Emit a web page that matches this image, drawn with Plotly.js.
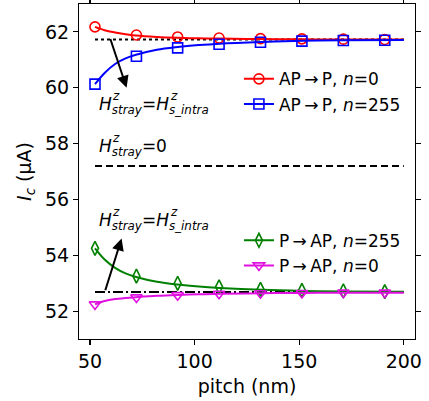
<!DOCTYPE html>
<html><head><meta charset="utf-8">
<script src="https://cdn.plot.ly/plotly-3.0.1.min.js"></script>
<style>html,body{margin:0;padding:0;background:#fff}</style>
</head><body><div id="chart" style="width:429px;height:401px"></div>
<script>
// ---- data ----
const pitch = [52.4, 72.2, 91.9, 111.7, 131.5, 151.3, 171.1, 190.9];
const apP_n0   = [62.18, 61.89, 61.82, 61.78, 61.76, 61.75, 61.74, 61.73];
const apP_n255 = [60.13, 61.13, 61.43, 61.56, 61.63, 61.67, 61.69, 61.70];
const pAP_n255 = [54.25, 53.25, 52.99, 52.87, 52.78, 52.74, 52.72, 52.70];
const pAP_n0   = [52.24, 52.49, 52.57, 52.62, 52.64, 52.65, 52.66, 52.66];

const fitX        = [52.4, 57, 62, 67, 72, 82, 92, 102, 112, 132, 152, 171, 200];
const fit_apP_n0   = [62.18, 62.06, 61.98, 61.92, 61.87, 61.82, 61.79, 61.77, 61.76, 61.745, 61.735, 61.73, 61.73];
const fit_apP_n255 = [60.13, 60.53, 60.85, 61.05, 61.18, 61.36, 61.46, 61.53, 61.58, 61.64, 61.68, 61.70, 61.71];
const fit_pAP_n255 = [54.25, 53.85, 53.55, 53.35, 53.22, 53.05, 52.95, 52.88, 52.83, 52.76, 52.72, 52.70, 52.69];
const fit_pAP_n0   = [52.24, 52.36, 52.43, 52.47, 52.50, 52.55, 52.58, 52.60, 52.62, 52.64, 52.65, 52.66, 52.66];

const refX = [52.4, 200];
const level_intraAP = 61.73;   // dotted
const level_zero    = 57.2;    // dashed
const level_intraP  = 52.68;   // dash-dot

const names = ['AP\u2009\u2192\u2009P, <i>n</i>=0', 'AP\u2009\u2192\u2009P, <i>n</i>=255',
               'P\u2009\u2192\u2009AP, <i>n</i>=255', 'P\u2009\u2192\u2009AP, <i>n</i>=0'];

// arrows: [tailX, tailY, headX, headY]
const arrow1 = [59.5, 61.8, 67.5, 60.0];
const arrow2 = [57.1, 52.69, 65.1, 54.6];

// ---- styling ----
const FONT = 'DejaVu Sans, sans-serif';
const cols = ['#ff0000', '#0000ff', '#008000', '#e010e0'];
const syms = ['circle-open', 'square-open', 'diamond-tall-open', 'triangle-down-open'];
const ys = [apP_n0, apP_n255, pAP_n255, pAP_n0];
const fits = [fit_apP_n0, fit_apP_n255, fit_pAP_n255, fit_pAP_n0];
const legs = ['legend', 'legend', 'legend2', 'legend2'];

const traces = [];
const refs = [[level_intraAP, 'dot'], [level_zero, '7px,4px'], [level_intraP, '10px,3px,2px,3px']];
refs.forEach(([lv, d]) => traces.push({x: refX, y: [lv, lv], mode: 'lines', showlegend: false,
  line: {color: '#000', width: 2, dash: d}, hoverinfo: 'skip'}));
for (let i = 0; i < 4; i++) {
  traces.push({x: fitX, y: fits[i], mode: 'lines', showlegend: false,
    line: {color: cols[i], width: 2, shape: 'spline'}});
  traces.push({x: pitch, y: ys[i], mode: 'markers', showlegend: false,
    marker: {symbol: syms[i], size: 10, color: cols[i], line: {width: 1.6, color: cols[i]}}});
}
for (let i = 0; i < 4; i++) {
  traces.push({x: [null], y: [null], mode: 'lines+markers', name: names[i], legend: legs[i],
    line: {color: cols[i], width: 2},
    marker: {symbol: syms[i], size: 10, color: cols[i], line: {width: 1.6, color: cols[i]}}});
}

const ann = [];
function label(x, y, main, z2shift) {
  ann.push({x: x, y: y, xref: 'x', yref: 'y', text: main, showarrow: false, xanchor: 'left', yanchor: 'middle',
    font: {family: FONT, size: 17, color: '#000'}});
  ann.push({x: x, y: y, xref: 'x', yref: 'y', text: '<i>z</i>', showarrow: false, xanchor: 'left', yanchor: 'middle',
    xshift: 13, yshift: 9, font: {family: FONT, size: 12, color: '#000'}});
  if (z2shift) ann.push({x: x, y: y, xref: 'x', yref: 'y', text: '<i>z</i>', showarrow: false, xanchor: 'left', yanchor: 'middle',
    xshift: z2shift, yshift: 9, font: {family: FONT, size: 12, color: '#000'}});
}
const labIntra = '<i>H</i><sub><i>stray</i></sub>=<i>H</i><sub><i>s_intra</i></sub>';
const labZero = '<i>H</i><sub><i>stray</i></sub>=0';
label(53.3, 59.38, labIntra, 71);
label(53.3, 57.87, labZero, 0);
label(53.3, 55.22, labIntra, 71);
[arrow1, arrow2].forEach(a => ann.push({x: a[2], y: a[3], ax: a[0], ay: a[1], xref: 'x', yref: 'y', axref: 'x', ayref: 'y',
  text: '', showarrow: true, arrowhead: 2, arrowsize: 1.2, arrowwidth: 2, arrowcolor: '#000'}));

const axisBase = {showline: true, mirror: 'ticks', linecolor: '#000', linewidth: 1.1, ticks: 'outside', ticklen: 5,
  tickwidth: 1.1, tickcolor: '#000', showgrid: false, zeroline: false, tickfont: {family: FONT, size: 19, color: '#000'}};

const layout = {
  width: 429, height: 401, margin: {l: 79, r: 14, t: 4, b: 62},
  paper_bgcolor: '#fff', plot_bgcolor: '#fff', font: {family: FONT, color: '#000'},
  xaxis: Object.assign({}, axisBase, {range: [44.75, 205.35], tickvals: [50, 100, 150, 200],
    title: {text: 'pitch (nm)', font: {family: FONT, size: 19}, standoff: 8}}),
  yaxis: Object.assign({}, axisBase, {range: [51, 63], tickvals: [52, 54, 56, 58, 60, 62],
    title: {text: '<i>I</i><sub><i>c</i></sub> (μA)', font: {family: FONT, size: 19}, standoff: 8}}),
  legend: {x: 0.476, y: 0.829, xanchor: 'left', yanchor: 'top', bgcolor: 'rgba(0,0,0,0)',
    font: {family: FONT, size: 17, color: '#000'}},
  legend2: {x: 0.476, y: 0.347, xanchor: 'left', yanchor: 'top', bgcolor: 'rgba(0,0,0,0)',
    font: {family: FONT, size: 17, color: '#000'}},
  annotations: ann, showlegend: true
};
Plotly.newPlot('chart', traces, layout, {staticPlot: true, displayModeBar: false});
</script></body></html>
